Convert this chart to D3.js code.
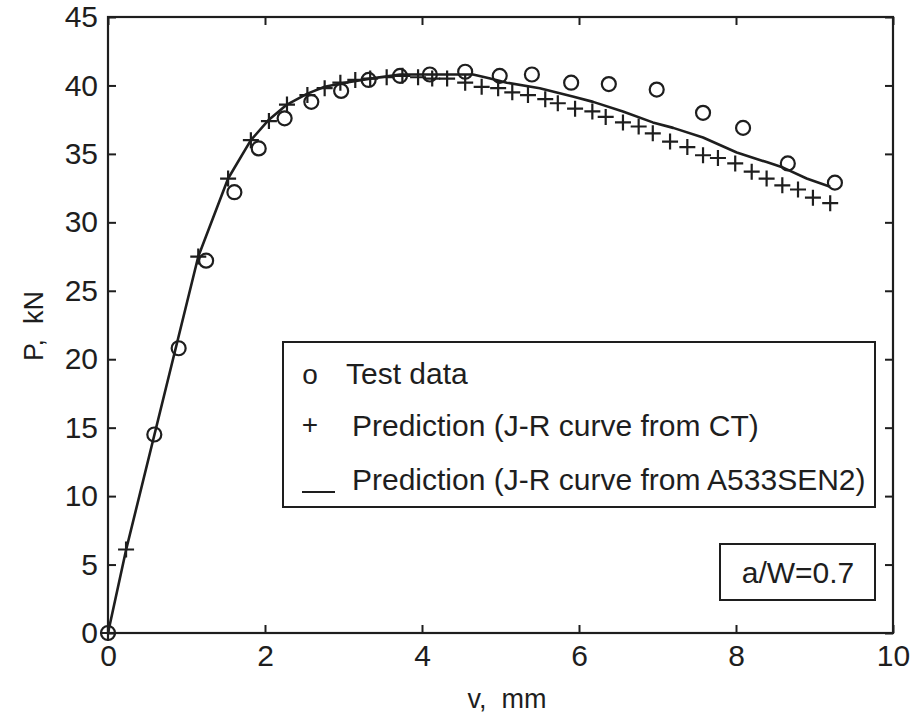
<!DOCTYPE html>
<html>
<head>
<meta charset="utf-8">
<script src="https://cdn.jsdelivr.net/npm/d3@7"></script>
<style>
  html, body { margin: 0; padding: 0; background: #fff; }
  svg { display: block; font-family: "Liberation Sans", Arial, sans-serif; }
</style>
</head>
<body>
<svg id="chart" width="915" height="718"></svg>
<script>
// Load-displacement response, a/W = 0.7
const testV = [0, 0.59, 0.90, 1.25, 1.61, 1.92, 2.25, 2.59, 2.97, 3.32, 3.72, 4.10, 4.55, 4.99, 5.40, 5.90, 6.38, 6.99, 7.58, 8.09, 8.66, 9.26];
const testP = [0, 14.5, 20.8, 27.2, 32.2, 35.4, 37.6, 38.8, 39.6, 40.4, 40.7, 40.8, 41.0, 40.7, 40.8, 40.2, 40.1, 39.7, 38.0, 36.9, 34.3, 32.9];

const ctV = [0, 0.23, 1.15, 1.53, 1.82, 2.05, 2.28, 2.54, 2.76, 2.96, 3.15, 3.34, 3.55, 3.75, 3.95, 4.13, 4.32, 4.55, 4.76, 4.97, 5.15, 5.35, 5.57, 5.73, 5.95, 6.17, 6.34, 6.56, 6.76, 6.94, 7.16, 7.38, 7.58, 7.77, 7.99, 8.20, 8.39, 8.59, 8.79, 8.98, 9.20];
const ctP = [0, 6.1, 27.5, 33.2, 36.0, 37.4, 38.6, 39.3, 39.8, 40.2, 40.4, 40.5, 40.6, 40.7, 40.6, 40.5, 40.5, 40.2, 39.9, 39.8, 39.5, 39.3, 39.0, 38.7, 38.3, 38.1, 37.7, 37.3, 37.0, 36.5, 35.9, 35.5, 34.9, 34.7, 34.3, 33.7, 33.2, 32.7, 32.4, 31.8, 31.4];

const senV = [0, 0.23, 1.15, 1.53, 1.82, 2.05, 2.28, 2.54, 2.76, 3.02, 3.34, 3.72, 4.23, 4.65, 4.87, 5.08, 5.50, 5.92, 6.18, 6.56, 6.94, 7.20, 7.58, 8.01, 8.39, 8.60, 8.90, 9.20];
const senP = [0, 6.06, 27.5, 33.2, 36.0, 37.5, 38.6, 39.4, 39.9, 40.2, 40.5, 40.8, 40.8, 40.8, 40.5, 40.2, 39.8, 39.2, 38.8, 38.1, 37.3, 36.9, 36.2, 35.1, 34.4, 34.0, 33.2, 32.6];

const xTicks = [0, 2, 4, 6, 8, 10];
const yTicks = [0, 5, 10, 15, 20, 25, 30, 35, 40, 45];

const legendLabels = ["Test data", "Prediction (J-R curve from CT)", "Prediction (J-R curve from A533SEN2)"];
const noteLabel = "a/W=0.7";
const xLabel = "v,  mm";
const yLabel = "P,  kN";

const svg = d3.select("#chart");
const ink = "#1e1e1e";
const font = "Liberation Sans, Arial, sans-serif";

const plotL = 108, plotR = 893, plotT = 17, plotB = 633;
const x = d3.scaleLinear().domain([0, 10]).range([plotL, plotR]);
const y = d3.scaleLinear().domain([0, 45]).range([plotB, plotT]);

// Axes with inward ticks on all four sides
const tickLen = 8;
const axFont = "30px";
const styleLabels = g => g.selectAll("text").attr("font-size", axFont).attr("fill", ink)
  .attr("font-family", font);
svg.append("g").attr("transform", `translate(0,${plotB})`)
  .call(d3.axisBottom(x).tickValues(xTicks).tickSizeInner(-tickLen).tickSizeOuter(0).tickPadding(12))
  .call(g => g.select(".domain").remove())
  .call(styleLabels);
svg.append("g").attr("transform", `translate(0,${plotT})`)
  .call(d3.axisTop(x).tickValues(xTicks).tickSizeInner(-tickLen).tickSizeOuter(0).tickFormat(""))
  .call(g => g.select(".domain").remove());
svg.append("g").attr("transform", `translate(${plotL},0)`)
  .call(d3.axisLeft(y).tickValues(yTicks).tickSizeInner(-tickLen).tickSizeOuter(0).tickPadding(10))
  .call(g => g.select(".domain").remove())
  .call(styleLabels);
svg.append("g").attr("transform", `translate(${plotR},0)`)
  .call(d3.axisRight(y).tickValues(yTicks).tickSizeInner(-tickLen).tickSizeOuter(0).tickFormat(""))
  .call(g => g.select(".domain").remove());
svg.selectAll(".tick line").attr("stroke", ink).attr("stroke-width", 2);

// Plot frame
svg.append("rect")
  .attr("x", plotL).attr("y", plotT).attr("width", plotR - plotL).attr("height", plotB - plotT)
  .attr("fill", "none").attr("stroke", ink).attr("stroke-width", 2.2);

// A533SEN2 prediction curve
const senData = senV.map((v, i) => [v, senP[i]]);
svg.append("path")
  .datum(senData)
  .attr("fill", "none").attr("stroke", ink).attr("stroke-width", 2.6)
  .attr("stroke-linejoin", "round")
  .attr("d", d3.line().x(d => x(d[0])).y(d => y(d[1])).curve(d3.curveLinear));

// CT prediction markers (+)
const crossR = 8;
const ctData = ctV.map((v, i) => [v, ctP[i]]);
const crosses = svg.append("g").attr("stroke", ink).attr("stroke-width", 2.2);
crosses.selectAll("path").data(ctData).join("path")
  .attr("d", d => {
    const cx = x(d[0]), cy = y(d[1]);
    return `M${cx - crossR},${cy}H${cx + crossR}M${cx},${cy - crossR}V${cy + crossR}`;
  });

// Test data markers (o)
const testData = testV.map((v, i) => [v, testP[i]]);
svg.append("g").selectAll("circle").data(testData).join("circle")
  .attr("cx", d => x(d[0])).attr("cy", d => y(d[1])).attr("r", 7)
  .attr("fill", "none").attr("stroke", ink).attr("stroke-width", 2.2);

// Axis titles
svg.append("text").attr("x", 507).attr("y", 708)
  .attr("text-anchor", "middle").attr("font-size", "27px").attr("fill", ink)
  .style("white-space", "pre").text(xLabel);
svg.append("text").attr("transform", `translate(43,326) rotate(-90)`)
  .attr("text-anchor", "middle").attr("font-size", "27px").attr("fill", ink)
  .style("white-space", "pre").text(yLabel);

// Legend
const lg = svg.append("g");
lg.append("rect").attr("x", 283).attr("y", 342).attr("width", 592).attr("height", 165)
  .attr("fill", "#fff").attr("stroke", ink).attr("stroke-width", 2);
const rows = [384, 436, 490];
lg.append("text").attr("x", 310).attr("y", rows[0]).attr("text-anchor", "middle")
  .attr("font-size", "28px").attr("fill", ink).text("o");
lg.append("text").attr("x", 310).attr("y", rows[1] - 2).attr("text-anchor", "middle")
  .attr("font-size", "28px").attr("fill", ink).text("+");
lg.append("line").attr("x1", 302).attr("x2", 335).attr("y1", 492).attr("y2", 492)
  .attr("stroke", ink).attr("stroke-width", 2);
const textX = [346, 352, 352];
legendLabels.forEach((t, i) => {
  lg.append("text").attr("x", textX[i]).attr("y", rows[i])
    .attr("font-size", "30px").attr("fill", ink).text(t);
});

// Crack-depth note
svg.append("rect").attr("x", 720).attr("y", 544).attr("width", 155).attr("height", 56)
  .attr("fill", "#fff").attr("stroke", ink).attr("stroke-width", 2);
svg.append("text").attr("x", 798).attr("y", 583).attr("text-anchor", "middle")
  .attr("font-size", "30px").attr("fill", ink).text(noteLabel);
</script>
</body>
</html>
